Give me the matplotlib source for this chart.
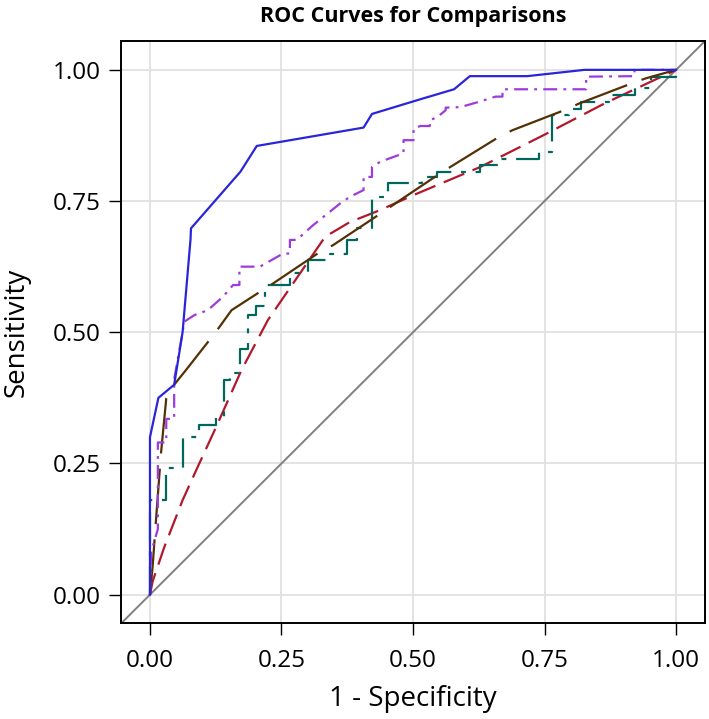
import matplotlib
matplotlib.use("Agg")
import matplotlib.pyplot as plt

plt.rcParams['font.family'] = ['Open Sans', 'DejaVu Sans']
plt.rcParams['lines.scale_dashes'] = False

# ROC points (1 - specificity, sensitivity)
blue_fpr = [0, 0, 0.016, 0.046, 0.062, 0.077, 0.078, 0.172, 0.203, 0.406, 0.422,
            0.514, 0.578, 0.608, 0.717, 0.826, 1.0]
blue_tpr = [0, 0.30, 0.375, 0.40, 0.50, 0.676, 0.698, 0.806, 0.855, 0.890, 0.916,
            0.944, 0.963, 0.988, 0.988, 1.0, 1.0]

red_fpr = [0, 0.005, 0.027, 0.062, 0.091, 0.126, 0.174, 0.224, 0.272, 0.333, 0.38,
           0.438, 0.50, 0.628, 0.749, 0.864, 1.0]
red_tpr = [0, 0.025, 0.09, 0.18, 0.244, 0.32, 0.428, 0.523, 0.593, 0.682, 0.71,
           0.733, 0.761, 0.815, 0.876, 0.936, 1.0]

teal_fpr = [0, 0, 0.031, 0.031, 0.062, 0.062, 0.094, 0.094, 0.126, 0.126, 0.141,
            0.141, 0.153, 0.153, 0.172, 0.172, 0.186, 0.186, 0.202, 0.202, 0.218,
            0.218, 0.266, 0.266, 0.30, 0.30, 0.343, 0.343, 0.374, 0.374, 0.393,
            0.393, 0.422, 0.422, 0.453, 0.453, 0.517, 0.517, 0.546, 0.546, 0.628,
            0.628, 0.66, 0.66, 0.74, 0.74, 0.765, 0.765, 0.797, 0.797, 0.819,
            0.819, 0.873, 0.873, 0.921, 0.921, 0.953, 0.953, 1.0, 1.0]
teal_tpr = [0, 0.18, 0.18, 0.241, 0.241, 0.301, 0.301, 0.323, 0.323, 0.339, 0.339,
            0.409, 0.409, 0.423, 0.423, 0.469, 0.469, 0.533, 0.533, 0.55, 0.55,
            0.59, 0.59, 0.612, 0.612, 0.638, 0.638, 0.65, 0.65, 0.676, 0.676,
            0.698, 0.698, 0.758, 0.758, 0.784, 0.784, 0.796, 0.796, 0.806, 0.806,
            0.818, 0.818, 0.831, 0.831, 0.844, 0.844, 0.914, 0.914, 0.926, 0.926,
            0.939, 0.939, 0.952, 0.952, 0.965, 0.965, 0.987, 0.987, 1.0]

brown_fpr = [0, 0.005, 0.011, 0.021, 0.031, 0.046, 0.07, 0.113, 0.132, 0.155, 0.209,
             0.234, 0.323, 0.348, 0.438, 0.476, 0.546, 0.571, 0.663, 0.689, 0.787,
             0.816, 0.915, 0.943, 1.0]
brown_tpr = [0, 0.053, 0.136, 0.27, 0.374, 0.40, 0.43, 0.485, 0.51, 0.542, 0.577,
             0.593, 0.653, 0.666, 0.726, 0.752, 0.799, 0.815, 0.872, 0.885, 0.923,
             0.936, 0.974, 0.984, 1.0]

purple_fpr = [0, 0.002, 0.015, 0.015, 0.031, 0.031, 0.046, 0.046, 0.062, 0.065,
              0.085, 0.11, 0.139, 0.158, 0.17, 0.17, 0.209, 0.253, 0.266, 0.266,
              0.279, 0.31, 0.361, 0.38, 0.406, 0.406, 0.422, 0.422, 0.438, 0.482,
              0.482, 0.501, 0.501, 0.514, 0.532, 0.532, 0.546, 0.562, 0.562, 0.59,
              0.625, 0.657, 0.67, 0.67, 0.829, 0.829, 0.921, 0.921, 1.0]
purple_tpr = [0, 0.08, 0.125, 0.29, 0.29, 0.335, 0.335, 0.41, 0.50, 0.52,
              0.533, 0.542, 0.568, 0.59, 0.59, 0.625, 0.625, 0.65, 0.65, 0.676,
              0.676, 0.704, 0.745, 0.758, 0.771, 0.796, 0.796, 0.815, 0.825, 0.841,
              0.866, 0.866, 0.888, 0.893, 0.893, 0.904, 0.91, 0.923, 0.928, 0.929,
              0.939, 0.949, 0.949, 0.963, 0.963, 0.987, 0.988, 1.0, 1.0]

ticks = [0, 0.25, 0.5, 0.75, 1.0]
tick_labels = ['0.00', '0.25', '0.50', '0.75', '1.00']

fig = plt.figure(figsize=(7.09, 7.19), dpi=100)
ax = fig.add_axes([0.1707, 0.1335, 0.8237, 0.8095])

ax.set_xlim(-0.055, 1.055)
ax.set_ylim(-0.054, 1.055)
ax.grid(True, color='#e1e1e1', lw=1.3)
ax.set_axisbelow(True)

# chance line across the whole frame
ax.axline((0, 0), (1, 1), color='#808080', lw=1.4)

ax.plot(red_fpr, red_tpr, color='#b2182b', lw=1.6, dashes=(16, 6.5))
ax.plot(teal_fpr, teal_tpr, color='#01665e', lw=1.6, dashes=(21, 7, 3.5, 7))
ax.plot(brown_fpr, brown_tpr, color='#543005', lw=1.6, dashes=(40, 11))
ax.plot(purple_fpr, purple_tpr, color='#9d3cdb', lw=1.6, dashes=(10, 4.5, 2, 4.5))
ax.plot(blue_fpr, blue_tpr, color='#2a25d9', lw=1.6)

ax.set_xticks(ticks)
ax.set_xticklabels(tick_labels)
ax.set_yticks(ticks)
ax.set_yticklabels(tick_labels)
ax.tick_params(labelsize=17.5, length=8.5, width=1.0)
ax.tick_params(axis='x', pad=10)
ax.tick_params(axis='y', pad=6)

for s in ax.spines.values():
    s.set_linewidth(1.4)

ax.set_xlabel('1 - Specificity', fontsize=20)
ax.set_ylabel('Sensitivity', fontsize=20)
ax.xaxis.set_label_coords(0.5, -0.106)
ax.yaxis.set_label_coords(-0.155, 0.5)
ax.set_title('ROC Curves for Comparisons', fontsize=15.5, fontweight='bold', pad=14)

fig.savefig('out.png', dpi=100)
